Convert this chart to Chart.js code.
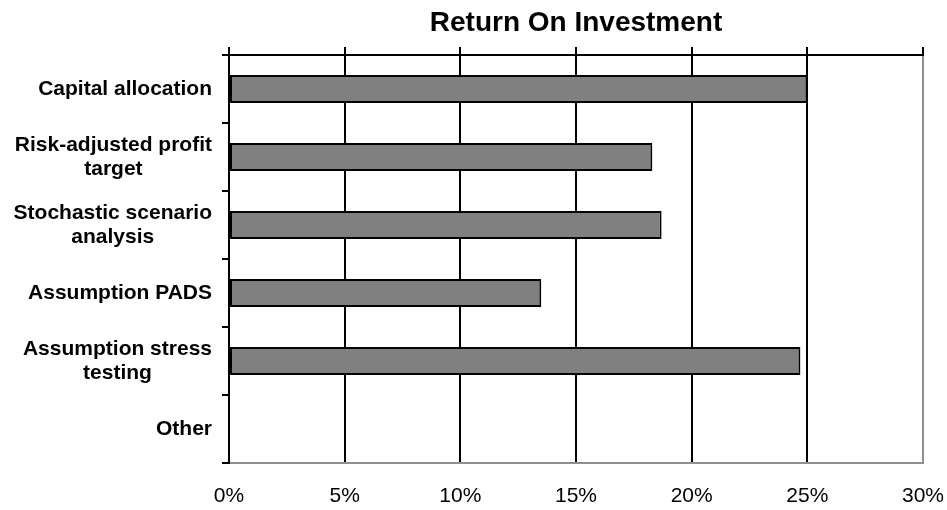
<!DOCTYPE html>
<html>
<head>
<meta charset="utf-8">
<script src="https://cdn.jsdelivr.net/npm/chart.js@4/dist/chart.umd.min.js"></script>
<style>
  html, body { margin: 0; padding: 0; background: #fff; }
  #wrap { width: 947px; height: 510px; }
</style>
</head>
<body>
<div id="wrap"><canvas id="roiChart" width="947" height="510"></canvas></div>
<script>
// category labels, split the way the original wraps them
const categories = [
  ["Capital allocation"],
  ["Risk-adjusted profit", "target"],
  ["Stochastic scenario", "analysis"],
  ["Assumption PADS"],
  ["Assumption stress", "testing"],
  ["Other"],
];
const roiValues = [25, 18.3, 18.7, 13.5, 24.7, 0];
const xTickValues = [0, 5, 10, 15, 20, 25, 30];

const FONT = '"Liberation Sans", Arial, sans-serif';
const GRAY = "#8f8f8f";

// y labels: single lines right aligned, wrapped ones centred as a block
const categoryLabels = {
  id: "categoryLabels",
  afterDraw(chart) {
    const ctx = chart.ctx;
    const yScale = chart.scales.y;
    ctx.save();
    ctx.font = `bold 21px ${FONT}`;
    ctx.fillStyle = "#000";
    ctx.textAlign = "center";
    ctx.textBaseline = "middle";
    categories.forEach((lines, i) => {
      const widest = Math.max(...lines.map(l => ctx.measureText(l).width));
      const cx = yScale.right - 17 - widest / 2;
      const cy = yScale.getPixelForValue(i);
      lines.forEach((line, j) => {
        ctx.fillText(line, cx, cy + (j - (lines.length - 1) / 2) * 24);
      });
    });
    ctx.restore();
  },
};

// fixed edge padding so the plot lands where the original has it
const fixPadding = scale => {
  scale.paddingLeft = 0;
  scale.paddingRight = 24;
};

new Chart(document.getElementById("roiChart"), {
  type: "bar",
  data: {
    labels: categories.map(l => l.join(" ")),
    datasets: [
      {
        label: "Return On Investment",
        data: roiValues,
        backgroundColor: "#808080",
        borderColor: "#000",
        borderWidth: 2,
        borderSkipped: false,
        barPercentage: 0.41,
        categoryPercentage: 1,
        xAxisID: "x",
      },
    ],
  },
  options: {
    indexAxis: "y",
    responsive: false,
    animation: false,
    layout: { padding: 0 },
    scales: {
      x: {
        position: "bottom",
        min: 0,
        max: 30,
        afterBuildTicks: scale => { scale.ticks = xTickValues.map(v => ({ value: v })); },
        afterFit: scale => { scale.height = 47; fixPadding(scale); },
        grid: {
          drawTicks: false,
          color: c => (c.tick && c.tick.value === 30 ? GRAY : "#000"),
          lineWidth: 2,
        },
        border: { display: true, color: GRAY, width: 2 },
        ticks: {
          padding: 21,
          color: "#000",
          font: { family: FONT, size: 21 },
          callback: v => v + "%",
        },
      },
      xTop: {
        axis: "x",
        position: "top",
        min: 0,
        max: 30,
        afterBuildTicks: scale => { scale.ticks = xTickValues.map(v => ({ value: v })); },
        afterFit: scale => { scale.height = 8; fixPadding(scale); },
        grid: { drawOnChartArea: false, drawTicks: true, tickLength: 8, color: "#000", lineWidth: 2 },
        border: { display: true, color: "#000", width: 2 },
        ticks: { display: false },
      },
      y: {
        position: "left",
        offset: true,
        afterFit: scale => { scale.width = 229; },
        grid: { offset: true, drawOnChartArea: false, drawTicks: true, tickLength: 7, color: "#000", lineWidth: 2 },
        border: { display: true, color: "#000", width: 2 },
        ticks: { display: false },
      },
    },
    plugins: {
      legend: { display: false },
      tooltip: { enabled: false },
      title: {
        display: true,
        fullSize: false,
        text: "Return On Investment",
        color: "#000",
        font: { family: FONT, size: 28, weight: "bold" },
        padding: { top: 6, bottom: 7.4 },
      },
    },
  },
  plugins: [categoryLabels],
});
</script>
</body>
</html>
